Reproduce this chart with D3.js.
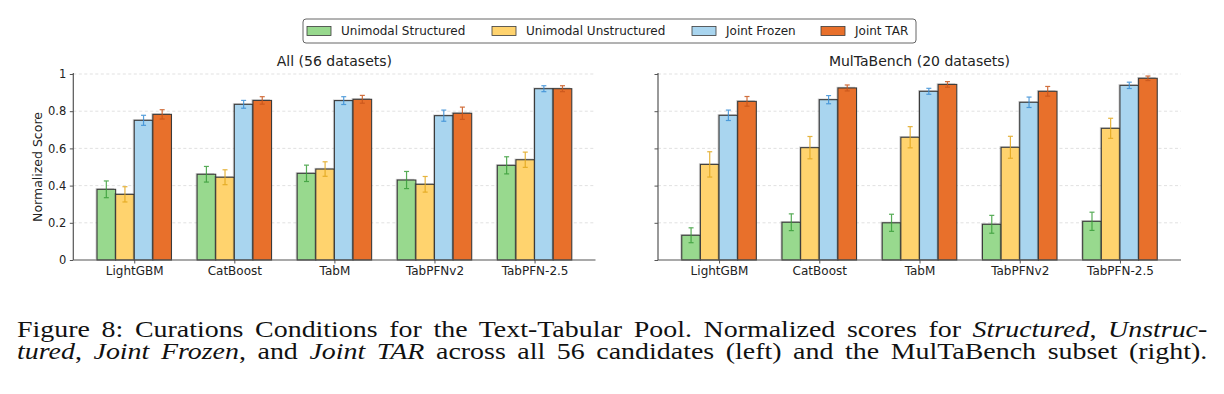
<!DOCTYPE html>
<html>
<head>
<meta charset="utf-8">
<script src="https://cdn.jsdelivr.net/npm/d3@7"></script>
<style>
  body { margin: 0; background: #fff; }
  svg { display: block; }
</style>
</head>
<body>
<svg id="fig" width="1224" height="394"></svg>
<script>
// categories and series
var models = ["LightGBM", "CatBoost", "TabM", "TabPFNv2", "TabPFN-2.5"];
var seriesNames = ["Unimodal Structured", "Unimodal Unstructured", "Joint Frozen", "Joint TAR"];
var yTicks = [0, 0.2, 0.4, 0.6, 0.8, 1];
var yTickLabels = ["0", "0.2", "0.4", "0.6", "0.8", "1"];

// All (56 datasets)
var allStructured     = [0.380, 0.461, 0.466, 0.430, 0.509];
var allStructuredErr  = [0.045, 0.042, 0.044, 0.046, 0.046];
var allUnstructured    = [0.353, 0.445, 0.489, 0.407, 0.539];
var allUnstructuredErr = [0.041, 0.040, 0.039, 0.042, 0.041];
var allFrozen    = [0.751, 0.837, 0.857, 0.776, 0.921];
var allFrozenErr = [0.027, 0.021, 0.021, 0.030, 0.016];
var allTAR    = [0.783, 0.858, 0.864, 0.789, 0.921];
var allTARErr = [0.025, 0.020, 0.021, 0.033, 0.016];

// MulTaBench (20 datasets)
var mtbStructured     = [0.133, 0.203, 0.200, 0.192, 0.208];
var mtbStructuredErr  = [0.040, 0.045, 0.046, 0.048, 0.049];
var mtbUnstructured    = [0.514, 0.604, 0.660, 0.606, 0.708];
var mtbUnstructuredErr = [0.068, 0.060, 0.057, 0.059, 0.054];
var mtbFrozen    = [0.778, 0.862, 0.907, 0.848, 0.939];
var mtbFrozenErr = [0.028, 0.022, 0.016, 0.028, 0.017];
var mtbTAR    = [0.853, 0.925, 0.944, 0.907, 0.977];
var mtbTARErr = [0.026, 0.016, 0.015, 0.026, 0.012];

var fills = ["#98d98e", "#ffd36e", "#a9d5ef", "#e8702b"];
var errColors = ["#3a9e3a", "#e2a71c", "#3a8fd6", "#c9561c"];

var panels = [
  {title: "All (56 datasets)", x0: 73.3, x1: 595.5, labels: true,
   means: [allStructured, allUnstructured, allFrozen, allTAR],
   errs: [allStructuredErr, allUnstructuredErr, allFrozenErr, allTARErr]},
  {title: "MulTaBench (20 datasets)", x0: 658, x1: 1181, labels: false,
   means: [mtbStructured, mtbUnstructured, mtbFrozen, mtbTAR],
   errs: [mtbStructuredErr, mtbUnstructuredErr, mtbFrozenErr, mtbTARErr]}
];

var svg = d3.select("#fig");
var font = "'DejaVu Sans', sans-serif";
var barW = 0.186;

var y = d3.scaleLinear().domain([0, 1]).range([260, 74]);

panels.forEach(function(p) {
  var x = d3.scaleLinear().domain([-0.609, 4.609]).range([p.x0, p.x1]);
  var g = svg.append("g");

  // dashed grid
  g.selectAll(".grid").data(yTicks.slice(1)).enter().append("line")
    .attr("x1", p.x0).attr("x2", p.x1)
    .attr("y1", function(d) { return y(d); }).attr("y2", function(d) { return y(d); })
    .attr("stroke", "#d9d9d9").attr("stroke-width", 0.8).attr("stroke-dasharray", "3,2.5");

  // bars + error bars, one series at a time
  p.means.forEach(function(vals, s) {
    var off = (s - 1.5) * barW;
    var sg = g.append("g");
    // faint shadow
    sg.selectAll(".shadow").data(vals).enter().append("rect")
      .attr("x", function(d, i) { return x(i + off - barW / 2) - 1.5; })
      .attr("y", function(d) { return y(d) - 1.2; })
      .attr("width", x(barW) - x(0))
      .attr("height", function(d) { return y(0) - y(d); })
      .attr("fill", "#000").attr("opacity", 0.18);
    sg.selectAll(".bar").data(vals).enter().append("rect")
      .attr("x", function(d, i) { return x(i + off - barW / 2); })
      .attr("y", function(d) { return y(d); })
      .attr("width", x(barW) - x(0))
      .attr("height", function(d) { return y(0) - y(d); })
      .attr("fill", fills[s]).attr("stroke", "#3b3b3b").attr("stroke-width", 1.1);

    var errs = p.errs[s];
    var eg = sg.selectAll(".err").data(vals).enter().append("g")
      .attr("stroke", errColors[s]).attr("stroke-width", 1.2).attr("opacity", 0.85);
    eg.append("line")
      .attr("x1", function(d, i) { return x(i + off); }).attr("x2", function(d, i) { return x(i + off); })
      .attr("y1", function(d, i) { return y(d + errs[i]); }).attr("y2", function(d, i) { return y(d - errs[i]); });
    [1, -1].forEach(function(sign) {
      eg.append("line")
        .attr("x1", function(d, i) { return x(i + off) - 2.5; }).attr("x2", function(d, i) { return x(i + off) + 2.5; })
        .attr("y1", function(d, i) { return y(d + sign * errs[i]); }).attr("y2", function(d, i) { return y(d + sign * errs[i]); });
    });
  });

  // y axis
  var yAxis = d3.axisLeft(y).tickValues(yTicks).tickSize(3.5).tickPadding(3.5)
    .tickFormat(function(d, i) { return p.labels ? yTickLabels[i] : ""; });
  var ya = g.append("g").attr("transform", "translate(" + p.x0 + ",0)").call(yAxis);
  ya.select(".domain").attr("d", "M0,73V260").attr("stroke", "#555").attr("stroke-width", 1.2);
  ya.selectAll(".tick line").attr("stroke", "#555").attr("stroke-width", 1);
  ya.selectAll("text").attr("font-family", font).attr("font-size", 11.5).attr("fill", "#222");

  // x axis
  var xAxis = d3.axisBottom(x).tickValues(d3.range(models.length)).tickSize(3.5).tickPadding(3)
    .tickFormat(function(d) { return models[d]; });
  var xa = g.append("g").attr("transform", "translate(0,260)").call(xAxis);
  xa.select(".domain").attr("d", "M" + p.x0 + ",0H" + p.x1).attr("stroke", "#555").attr("stroke-width", 1.2);
  xa.selectAll(".tick line").attr("stroke", "#555").attr("stroke-width", 1);
  xa.selectAll("text").attr("font-family", font).attr("font-size", 12).attr("fill", "#222");

  // title
  g.append("text").attr("x", (p.x0 + p.x1) / 2).attr("y", 66)
    .attr("text-anchor", "middle").attr("font-family", font).attr("font-size", 14)
    .attr("fill", "#222").text(p.title);
});

// y label
svg.append("text").attr("transform", "translate(41.5,167) rotate(-90)")
  .attr("text-anchor", "middle").attr("font-family", font).attr("font-size", 12.5)
  .attr("fill", "#222").text("Normalized Score");

// legend
var leg = svg.append("g");
leg.append("rect").attr("x", 303).attr("y", 19).attr("width", 613).attr("height", 24)
  .attr("rx", 3).attr("fill", "#fff").attr("stroke", "#555").attr("stroke-width", 0.9);
var legX = [307, 492, 692, 821];
seriesNames.forEach(function(name, s) {
  leg.append("rect").attr("x", legX[s]).attr("y", 26.5).attr("width", 24).attr("height", 9)
    .attr("fill", fills[s]).attr("stroke", "#3b3b3b").attr("stroke-width", 0.8);
  leg.append("text").attr("x", legX[s] + 34).attr("y", 35.2)
    .attr("font-family", font).attr("font-size", 12).attr("fill", "#222").text(name);
});

// caption: glyphs widened, leftover width goes into the word gaps
var captionLines = [
  [["Figure 8: Curations Conditions for the Text-Tabular Pool. Normalized scores for ", false],
   ["Structured", true], [", ", false], ["Unstruc-", true]],
  [["tured", true], [", ", false], ["Joint Frozen", true], [", and ", false], ["Joint TAR", true],
   [" across all 56 candidates (left) and the MulTaBench subset (right).", false]]
];
var capY = [336.7, 358.6];
var capLeft = 17, capRight = 1207;
var glyphScale = 1.23;
captionLines.forEach(function(parts, li) {
  var lg = svg.append("g");
  var t = lg.append("text").attr("x", 0).attr("y", 0)
    .attr("font-family", "'Liberation Serif', 'Times New Roman', serif")
    .attr("font-size", 22.7).attr("fill", "#111").attr("xml:space", "preserve");
  var nSpaces = 0;
  parts.forEach(function(pt) {
    t.append("tspan").attr("font-style", pt[1] ? "italic" : "normal").text(pt[0]);
    nSpaces += (pt[0].match(/ /g) || []).length;
  });
  var w = t.node().getComputedTextLength();
  var ws = ((capRight - capLeft) / glyphScale - w) / nSpaces;
  t.attr("word-spacing", ws);
  lg.attr("transform", "translate(" + capLeft + "," + capY[li] + ") scale(" + glyphScale + ",1)");
});
</script>
</body>
</html>
